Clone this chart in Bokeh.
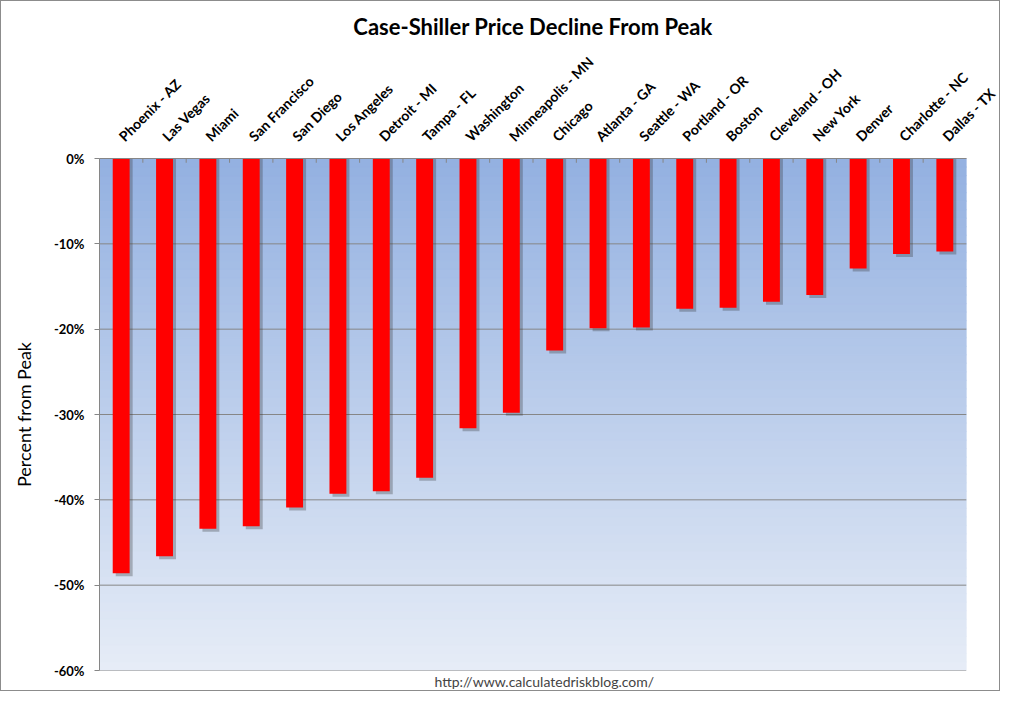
import numpy as np
from bokeh.plotting import figure
from bokeh.models import FixedTicker, PrintfTickFormatter, Title, Range1d, FactorRange
from bokeh.transform import dodge
from bokeh.embed import file_html
from bokeh.resources import INLINE

# chart data
cities = ["Phoenix - AZ", "Las Vegas", "Miami", "San Francisco", "San Diego",
          "Los Angeles", "Detroit - MI", "Tampa - FL", "Washington", "Minneapolis - MN",
          "Chicago", "Atlanta - GA", "Seattle - WA", "Portland - OR", "Boston",
          "Cleveland - OH", "New York", "Denver", "Charlotte - NC", "Dallas - TX"]
decline = [-48.6, -46.6, -43.4, -43.1, -40.9,
           -39.3, -39.0, -37.4, -31.6, -29.8,
           -22.5, -19.9, -19.8, -17.6, -17.5,
           -16.8, -16.0, -12.9, -11.2, -10.9]
y_ticks = [0, -10, -20, -30, -40, -50, -60]

FONT = "Lato"
GRID = "#868686"
n = len(cities)

p = figure(width=1000, height=691, x_range=FactorRange(*cities), y_range=Range1d(-60, 0),
           output_backend="svg", toolbar_location=None, x_axis_location="above",
           title="Case-Shiller Price Decline From Peak")
p.min_border_left = 98
p.min_border_right = 35
p.min_border_top = 157
p.min_border_bottom = 22
p.outline_line_color = None
p.styles = {"border": "1px solid #8c8c8c"}

p.title.align = "center"
p.title.text_font = FONT
p.title.text_font_size = "22px"
p.title.text_font_style = "bold"
p.title.text_color = "black"

# gradient background of the plot area, drawn as thin horizontal bands
bands = np.linspace(-60, 0, 61)
mix = (bands[:-1] + 60) / 60.0
top_rgb = np.array([0x93, 0xb1, 0xe1])
bot_rgb = np.array([0xe6, 0xec, 0xf7])
cols = ["#%02x%02x%02x" % tuple((bot_rgb + (top_rgb - bot_rgb) * m).astype(int)) for m in mix]
p.quad(left=0, right=n, bottom=bands[:-1], top=bands[1:], color=cols, line_color=cols)

# gridlines
p.xgrid.visible = False
p.ygrid.visible = False
p.segment(x0=0, x1=n, y0=y_ticks, y1=y_ticks, line_color=GRID, line_width=1)

# small category ticks at the boundaries, hanging down from the 0% line
edges = list(range(1, n))
p.segment(x0=edges, x1=edges, y0=0, y1=-0.5, line_color=GRID, line_width=1)

# bar shadows then bars
p.vbar(x=dodge("x", 0.07, range=p.x_range), top=0, bottom="b", width=0.39,
       source={"x": cities, "b": [v - 0.35 for v in decline]},
       fill_color="#303030", fill_alpha=0.3, line_color=None)
p.vbar(x=cities, top=0, bottom=decline, width=0.39, fill_color="#ff0000", line_color=None)

ya = p.yaxis[0]
ya.ticker = FixedTicker(ticks=y_ticks)
ya.formatter = PrintfTickFormatter(format="%d%%")
ya.major_label_text_font = FONT
ya.major_label_text_font_style = "bold"
ya.major_label_text_font_size = "13px"
ya.major_label_text_color = "black"
ya.major_label_standoff = 10
ya.axis_line_color = GRID
ya.major_tick_in = 0
ya.major_tick_out = 5
ya.major_tick_line_color = GRID
ya.minor_tick_line_color = None
ya.axis_label = "Percent from Peak"
ya.axis_label_text_font = FONT
ya.axis_label_text_font_style = "normal"
ya.axis_label_text_font_size = "18px"
ya.axis_label_text_color = "black"
ya.axis_label_standoff = 16

xa = p.xaxis[0]
xa.major_label_orientation = np.pi / 4
xa.major_label_text_font = FONT
xa.major_label_text_font_style = "bold"
xa.major_label_text_font_size = "14px"
xa.major_label_text_color = "black"
xa.axis_line_color = GRID
xa.major_tick_line_color = None
xa.minor_tick_line_color = None
xa.major_label_standoff = 14

p.add_layout(Title(text="http://www.calculatedriskblog.com/", align="left", offset=335,
                   standoff=0, text_font=FONT, text_font_size="14px",
                   text_font_style="normal"), "below")

open("out.html", "w").write(file_html(p, INLINE))
